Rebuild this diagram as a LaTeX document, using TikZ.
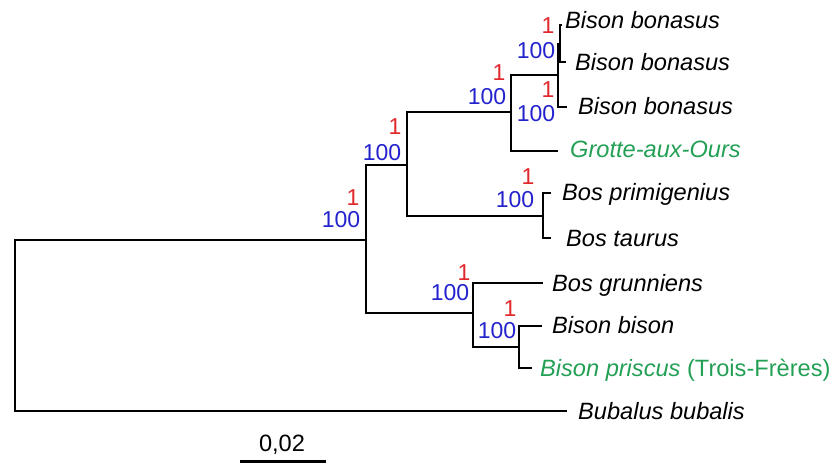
\documentclass[tikz,border=0pt]{standalone}
\usepackage{fontspec}
\setmainfont{Liberation Sans}
\definecolor{supred}{RGB}{225,40,45}
\definecolor{supblue}{RGB}{35,35,205}
\definecolor{taxgreen}{RGB}{35,160,85}
\begin{document}
\begin{tikzpicture}[x=1pt,y=-1pt,
  branch/.style={line width=2.7pt, line join=miter},
  taxon/.style={anchor=base west, inner sep=0pt, font=\fontsize{23.6}{27}\selectfont\itshape},
  fossil/.style={taxon, text=taxgreen},
  pp/.style={anchor=base, inner sep=0pt, text=supred, font=\fontsize{23}{27}\selectfont},
  bs/.style={anchor=base, inner sep=0pt, text=supblue, font=\fontsize{23}{27}\selectfont},
  scaletext/.style={anchor=base, inner sep=0pt, font=\fontsize{23.6}{27}\selectfont}]
\useasboundingbox (0,0) rectangle (835,463);
% internal nodes
\coordinate (r) at (15,325.5);
\coordinate (A) at (366,240);
\coordinate (B) at (407,165);
\coordinate (C) at (511,112);
\coordinate (E) at (558,75);
\coordinate (F) at (560,44);
\coordinate (D) at (543,216);
\coordinate (G) at (473,313);
\coordinate (H) at (519,347);
% tips
\coordinate (t1) at (562,25);
\coordinate (t2) at (566,62);
\coordinate (t3) at (567,107);
\coordinate (t4) at (558,151);
\coordinate (t5) at (551,193);
\coordinate (t6) at (551,238);
\coordinate (t7) at (543,283);
\coordinate (t8) at (542,326);
\coordinate (t9) at (532,368);
\coordinate (t10) at (567,411);
% taxon labels
\node[taxon] (l1) at (565,28.3) {Bison bonasus};
\node[taxon] (l2) at (575,70.3) {Bison bonasus};
\node[taxon] (l3) at (578,114.3) {Bison bonasus};
\node[fossil] (l4) at (570,157.3) {Grotte-aux-Ours};
\node[taxon] (l5) at (562,200.3) {Bos primigenius};
\node[taxon] (l6) at (566,246.3) {Bos taurus};
\node[taxon] (l7) at (552,291.3) {Bos grunniens};
\node[taxon] (l8) at (552,333.3) {Bison bison};
\node[fossil] (l9) at (540,376.3) {Bison priscus\upshape\ (Trois-Frères)};
\node[taxon] (l10) at (578,419.3) {Bubalus bubalis};
% branches
\draw[branch] (r) |- (A);
\draw[branch] (r) |- (t10);
\draw[branch] (A) |- (B);
\draw[branch] (A) |- (G);
\draw[branch] (B) |- (C);
\draw[branch] (B) |- (D);
\draw[branch] (C) |- (E);
\draw[branch] (C) |- (t4);
\draw[branch] (E) |- (F);
\draw[branch] (E) |- (t3);
\draw[branch] (F) |- (t1);
\draw[branch] (F) |- (t2);
\draw[branch] (D) |- (t5);
\draw[branch] (D) |- (t6);
\draw[branch] (G) |- (t7);
\draw[branch] (G) |- (H);
\draw[branch] (H) |- (t8);
\draw[branch] (H) |- (t9);
% support values
\node[pp] (p1) at (548,33.8) {1};
\node[bs] (b1) at (536,58.3) {100};
\node[pp] (p2) at (548,97.8) {1};
\node[bs] (b2) at (536,121.3) {100};
\node[pp] (p3) at (499,80.8) {1};
\node[bs] (b3) at (487,104.3) {100};
\node[pp] (p4) at (395,134.8) {1};
\node[bs] (b4) at (382,160.3) {100};
\node[pp] (p5) at (353,205.8) {1};
\node[bs] (b5) at (341,227.3) {100};
\node[pp] (p6) at (528,184.8) {1};
\node[bs] (b6) at (515,207.3) {100};
\node[pp] (p7) at (464,280.3) {1};
\node[bs] (b7) at (450,300.8) {100};
\node[pp] (p8) at (510,316.3) {1};
\node[bs] (b8) at (497,338.8) {100};
% scale bar
\coordinate (s1) at (240,461.5);
\coordinate (s2) at (326,461.5);
\draw[branch] (s1) -- (s2);
\node[scaletext] (st) at (282,451.3) {0,02};
\end{tikzpicture}
\end{document}
